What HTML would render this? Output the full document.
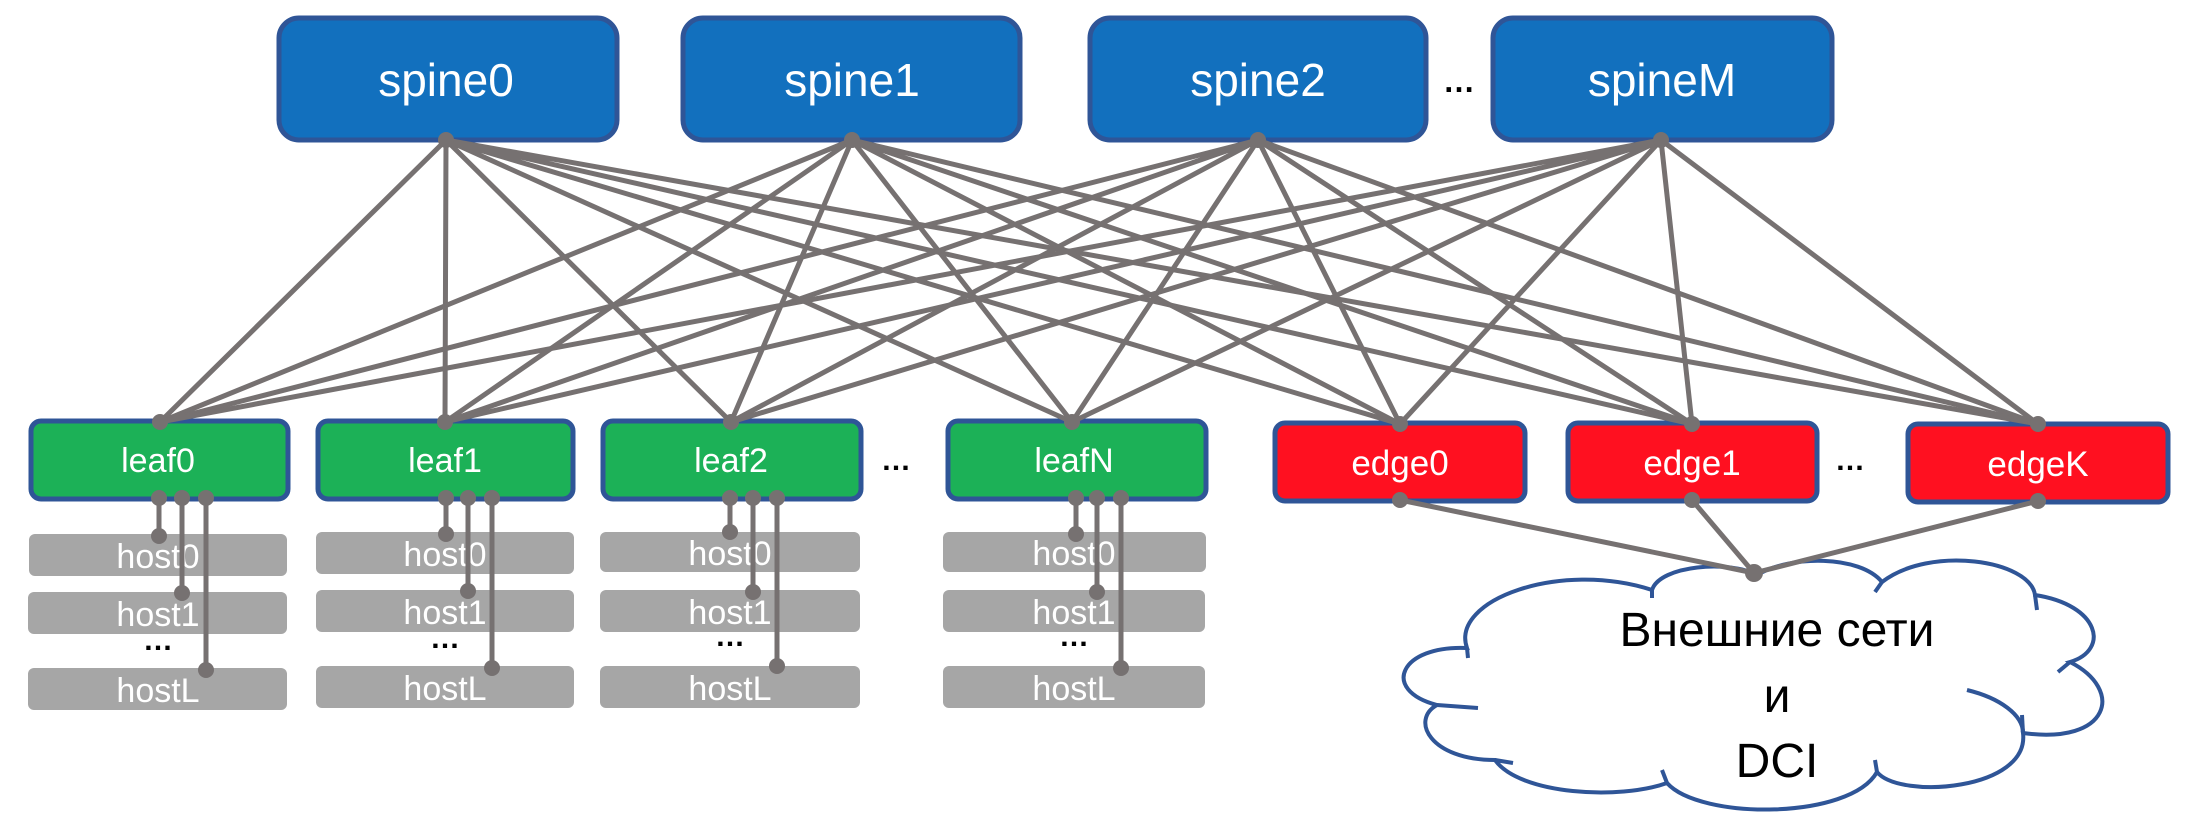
<!DOCTYPE html>
<html><head><meta charset="utf-8"><style>
html,body{margin:0;padding:0;background:#fff;}
svg{display:block}
text{font-family:"Liberation Sans","DejaVu Sans",sans-serif;}
</style></head><body>
<svg width="2202" height="840" viewBox="0 0 2202 840" xmlns="http://www.w3.org/2000/svg">
<!-- cloud -->
<path d="M1467,648 C1450,600 1560,560 1652,590 C1660,565 1730,560 1757,575 C1790,555 1860,555 1882,582 C1930,545 2030,560 2035,595 C2100,605 2110,650 2070,662 C2125,690 2110,745 2023,733 C2030,790 1900,800 1877,772 C1850,820 1700,820 1667,783 C1620,800 1520,795 1495,760 C1430,760 1410,720 1437,705 C1380,690 1400,645 1467,648 Z" fill="#fff" stroke="#2F5597" stroke-width="4"/>
<g fill="none" stroke="#2F5597" stroke-width="4">
<path d="M1467,648 L1468,658"/><path d="M1437,705 L1478,708"/><path d="M1495,760 L1513,763"/><path d="M1667,783 L1662,770"/><path d="M1877,772 L1875,760"/><path d="M2023,733 L2022,715"/><path d="M2070,662 L2058,672"/><path d="M2035,595 L2037,610"/><path d="M1882,582 L1875,592"/><path d="M1652,590 L1652,598"/><path d="M1967,690 C2000,698 2023,715 2023,733"/>
</g>
<text x="1777" y="646" font-size="48" text-anchor="middle" fill="#000">Внешние сети</text>
<text x="1777" y="712" font-size="48" text-anchor="middle" fill="#000">и</text>
<text x="1777" y="777" font-size="48" text-anchor="middle" fill="#000">DCI</text>

<!-- hosts -->
<g fill="#A6A6A6">
<rect x="29" y="534" width="258" height="42" rx="6"/><rect x="28" y="592" width="259" height="42" rx="6"/><rect x="28" y="668" width="259" height="42" rx="6"/>
<rect x="316" y="532" width="258" height="42" rx="6"/><rect x="316" y="590" width="258" height="42" rx="6"/><rect x="316" y="666" width="258" height="42" rx="6"/>
<rect x="600" y="532" width="260" height="40" rx="6"/><rect x="600" y="590" width="260" height="42" rx="6"/><rect x="600" y="666" width="260" height="42" rx="6"/>
<rect x="943" y="532" width="263" height="40" rx="6"/><rect x="943" y="590" width="262" height="42" rx="6"/><rect x="943" y="666" width="262" height="42" rx="6"/>
</g>
<g fill="#fff" font-size="34" text-anchor="middle">
<text x="158" y="568">host0</text><text x="158" y="626">host1</text><text x="158" y="702">hostL</text>
<text x="445" y="566">host0</text><text x="445" y="624">host1</text><text x="445" y="700">hostL</text>
<text x="730" y="565">host0</text><text x="730" y="624">host1</text><text x="730" y="700">hostL</text>
<text x="1074" y="565">host0</text><text x="1074" y="624">host1</text><text x="1074" y="700">hostL</text>
</g>
<g fill="#000" font-size="30" font-weight="bold" text-anchor="middle">
<text x="158" y="650">…</text><text x="445" y="648">…</text><text x="730" y="646">…</text><text x="1074" y="646">…</text>
</g>

<!-- spines -->
<g fill="#1270BE" stroke="#2F5597" stroke-width="5">
<rect x="279" y="18" width="338" height="122" rx="20"/>
<rect x="683" y="18" width="337" height="122" rx="20"/>
<rect x="1090" y="18" width="336" height="122" rx="20"/>
<rect x="1493" y="18" width="339" height="122" rx="20"/>
</g>
<g fill="#fff" font-size="46" text-anchor="middle">
<text x="446" y="96">spine0</text><text x="852" y="96">spine1</text><text x="1258" y="96">spine2</text><text x="1662" y="96">spineM</text>
</g>
<text x="1459" y="92" font-size="32" font-weight="bold" text-anchor="middle">…</text>

<!-- leafs -->
<g fill="#1CB157" stroke="#2F5597" stroke-width="5">
<rect x="31" y="421" width="257" height="78" rx="10"/>
<rect x="318" y="421" width="255" height="78" rx="10"/>
<rect x="603" y="421" width="258" height="78" rx="10"/>
<rect x="948" y="421" width="258" height="78" rx="10"/>
</g>
<g fill="#fff" font-size="34" text-anchor="middle">
<text x="158" y="472">leaf0</text><text x="445" y="472">leaf1</text><text x="731" y="472">leaf2</text><text x="1074" y="472">leafN</text>
</g>
<text x="896" y="470" font-size="30" font-weight="bold" text-anchor="middle">…</text>

<!-- edges -->
<g fill="#FF1020" stroke="#2F5597" stroke-width="5">
<rect x="1275" y="423" width="250" height="78" rx="10"/>
<rect x="1568" y="423" width="249" height="78" rx="10"/>
<rect x="1908" y="424" width="260" height="78" rx="10"/>
</g>
<g fill="#fff" font-size="35" text-anchor="middle">
<text x="1400" y="475">edge0</text><text x="1692" y="475">edge1</text><text x="2038" y="476">edgeK</text>
</g>
<text x="1850" y="470" font-size="30" font-weight="bold" text-anchor="middle">…</text>

<!-- mesh lines -->
<g stroke="#767171" stroke-width="5" fill="none">
<path d="M446,140 L160,422 M446,140 L445,422 M446,140 L731,422 M446,140 L1072,422 M446,140 L1400,424 M446,140 L1692,424 M446,140 L2038,424"/>
<path d="M852,140 L160,422 M852,140 L445,422 M852,140 L731,422 M852,140 L1072,422 M852,140 L1400,424 M852,140 L1692,424 M852,140 L2038,424"/>
<path d="M1258,140 L160,422 M1258,140 L445,422 M1258,140 L731,422 M1258,140 L1072,422 M1258,140 L1400,424 M1258,140 L1692,424 M1258,140 L2038,424"/>
<path d="M1661,140 L160,422 M1661,140 L445,422 M1661,140 L731,422 M1661,140 L1072,422 M1661,140 L1400,424 M1661,140 L1692,424 M1661,140 L2038,424"/>
<path d="M1400,500 L1754,573 M1692,500 L1754,573 M2038,501 L1754,573"/>
<path d="M159,498 V536 M182,498 V593 M206,498 V670"/>
<path d="M446,498 V534 M468,498 V591 M492,498 V668"/>
<path d="M730,498 V532 M753,498 V592 M777,498 V666"/>
<path d="M1076,498 V534 M1097,498 V592 M1121,498 V668"/>
</g>
<g fill="#767171">
<circle cx="446" cy="140" r="8"/><circle cx="852" cy="140" r="8"/><circle cx="1258" cy="140" r="8"/><circle cx="1661" cy="140" r="8"/>
<circle cx="160" cy="422" r="8"/><circle cx="445" cy="422" r="8"/><circle cx="731" cy="422" r="8"/><circle cx="1072" cy="422" r="8"/>
<circle cx="1400" cy="424" r="8"/><circle cx="1692" cy="424" r="8"/><circle cx="2038" cy="424" r="8"/>
<circle cx="1400" cy="500" r="8"/><circle cx="1692" cy="500" r="8"/><circle cx="2038" cy="501" r="8"/>
<circle cx="1754" cy="573" r="9"/>
<circle cx="159" cy="498" r="8"/><circle cx="182" cy="498" r="8"/><circle cx="206" cy="498" r="8"/>
<circle cx="159" cy="536" r="8"/><circle cx="182" cy="593" r="8"/><circle cx="206" cy="670" r="8"/>
<circle cx="446" cy="498" r="8"/><circle cx="468" cy="498" r="8"/><circle cx="492" cy="498" r="8"/>
<circle cx="446" cy="534" r="8"/><circle cx="468" cy="591" r="8"/><circle cx="492" cy="668" r="8"/>
<circle cx="730" cy="498" r="8"/><circle cx="753" cy="498" r="8"/><circle cx="777" cy="498" r="8"/>
<circle cx="730" cy="532" r="8"/><circle cx="753" cy="592" r="8"/><circle cx="777" cy="666" r="8"/>
<circle cx="1076" cy="498" r="8"/><circle cx="1097" cy="498" r="8"/><circle cx="1121" cy="498" r="8"/>
<circle cx="1076" cy="534" r="8"/><circle cx="1097" cy="592" r="8"/><circle cx="1121" cy="668" r="8"/>
</g>
</svg>
</body></html>
